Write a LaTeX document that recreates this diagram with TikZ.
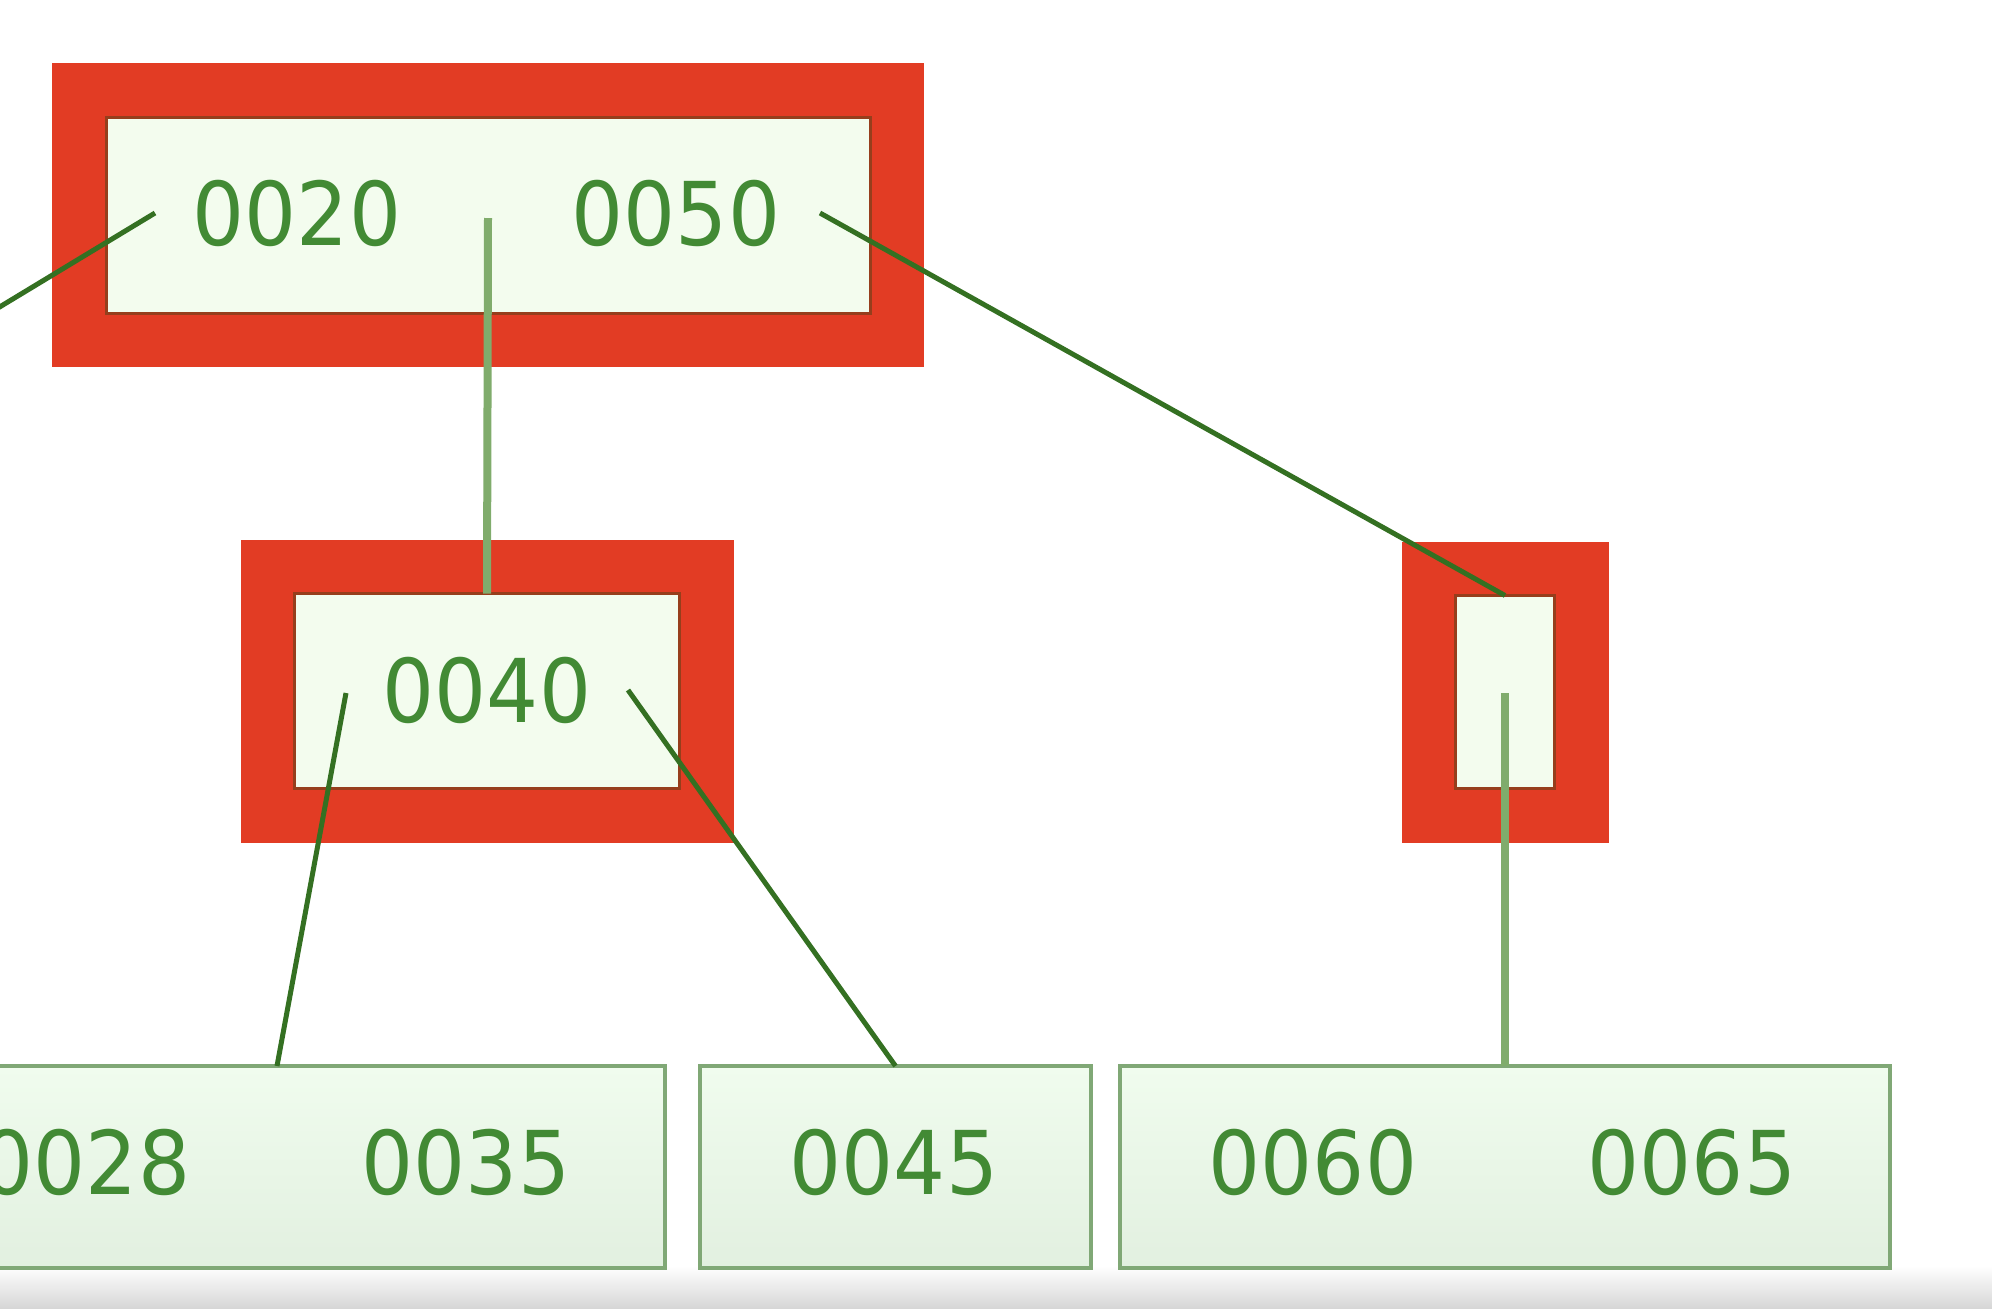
\documentclass[tikz,border=0pt]{standalone}
\usepackage{fontspec}
\newfontfamily\keyfont[FakeStretch=0.93]{DejaVu Sans}
\definecolor{redfr}{RGB}{226,60,36}
\definecolor{rededge}{RGB}{150,62,28}
\definecolor{nodefill}{RGB}{243,252,238}
\definecolor{leafdraw}{RGB}{128,168,118}
\definecolor{leaftop}{RGB}{240,252,238}
\definecolor{leafbot}{RGB}{226,240,224}
\definecolor{keygreen}{RGB}{66,138,52}
\definecolor{ptrdark}{RGB}{52,112,34}
\definecolor{ptrlight}{RGB}{128,172,108}
\definecolor{stripgrey}{RGB}{214,214,214}

\begin{document}
\begin{tikzpicture}[x=0.5pt,y=-0.5pt]
\tikzstyle{redbox}=[rectangle, draw=redfr, line width=27pt, fill=nodefill, inner sep=0pt, outer sep=0pt]
\tikzstyle{leaf}=[rectangle, draw=leafdraw, line width=2pt, top color=leaftop, bottom color=leafbot, inner sep=0pt, outer sep=0pt, minimum height=101pt]
\tikzstyle{key}=[font=\keyfont\fontsize{44}{50}\selectfont, text=keygreen, inner sep=0pt]
\tikzstyle{ptr}=[line width=2.5pt, draw=ptrdark]
\tikzstyle{ptrv}=[line width=4pt, draw=ptrlight]
\useasboundingbox (0,0) rectangle (1992,1308);
\clip (0,0) rectangle (1992,1308);
\shade[top color=white, bottom color=stripgrey] (0,1266) rectangle (1992,1308);
%root
\node[redbox, minimum width=409pt, minimum height=125pt] (n0) at (488,215) {};
%inner
\node[redbox, minimum width=219.5pt, minimum height=124.5pt] (n1) at (487,691) {};
\node[redbox, minimum width=76.5pt, minimum height=123.5pt] (n2) at (1505,692) {};
\foreach \n in {n0,n1,n2}
  \draw[rededge, line width=1.5pt] ([shift={(13.5pt,-13.5pt)}]\n.north west) rectangle ([shift={(-13.5pt,13.5pt)}]\n.south east);
%leaves
\node[leaf, minimum width=388pt] (l0) at (277,1167) {};
\node[leaf, minimum width=195.5pt] (l1) at (895.5,1167) {};
\node[leaf, minimum width=385pt] (l2) at (1505,1167) {};
%keys
\node[key] (k20) at (297,213) {0020};
\node[key] (k50) at (676,213) {0050};
\node[key] (k40) at (487,690) {0040};
\node[key] (k28) at (86,1162) {0028};
\node[key] (k35) at (466,1162) {0035};
\node[key] (k45) at (894,1162) {0045};
\node[key] (k60) at (1313,1162) {0060};
\node[key] (k65) at (1692,1162) {0065};
%pointers
\coordinate (off) at (-12,314);
\coordinate (p00) at (155,213);
\coordinate (p01) at (488,218);
\coordinate (p02) at (820,213);
\coordinate (p10) at (346,693);
\coordinate (p11) at (628,690);
\coordinate (p20) at (1505,693);
\draw[ptr] (p00) -- (off);
\draw[ptrv] (p01) -- ([yshift=-13.5pt]n1.north);
\draw[ptr] (p02) -- ([yshift=-13.5pt]n2.north);
\draw[ptr] (p10) -- (l0.north);
\draw[ptr] (p11) -- (l1.north);
\draw[ptrv] (p20) -- (l2.north);
\end{tikzpicture}
\end{document}
